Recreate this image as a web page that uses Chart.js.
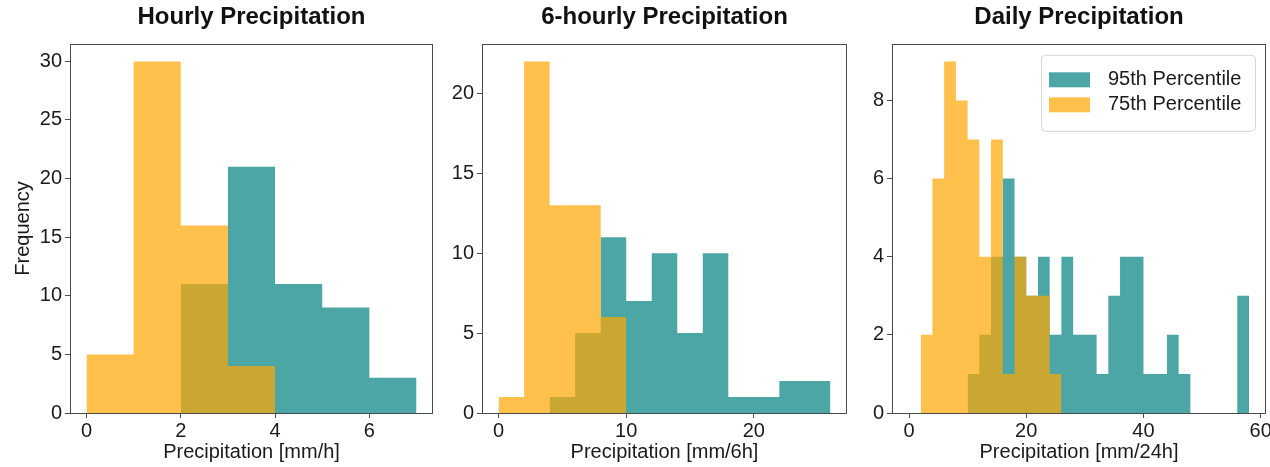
<!DOCTYPE html>
<html>
<head>
<meta charset="utf-8">
<script src="https://cdn.jsdelivr.net/npm/chart.js@4.4.1/dist/chart.umd.min.js"></script>
<style>
  body { margin: 0; background: #fff; width: 1270px; height: 467px; overflow: hidden; position: relative; }
  canvas { position: absolute; top: 0; }
</style>
</head>
<body>
<canvas id="hourlyChart" width="440" height="467" style="left:0px"></canvas>
<canvas id="sixHourlyChart" width="412" height="467" style="left:440px"></canvas>
<canvas id="dailyChart" width="440" height="467" style="left:850px"></canvas>
<script>
const FONT = "'Liberation Sans', Arial, Helvetica, sans-serif";

// Hourly (bin edges + counts)
const hourlyEdges75 = [0, 1, 2, 3, 4];
const hourlyCounts75 = [5, 30, 16, 4];
const hourlyEdges95 = [2, 3, 4, 5, 6, 7];
const hourlyCounts95 = [11, 21, 11, 9, 3];
const hourlyXTicks = [0, 2, 4, 6];
const hourlyYTicks = [0, 5, 10, 15, 20, 25, 30];

// 6-hourly
const sixEdges75 = [0, 2, 4, 6, 8, 10];
const sixCounts75 = [1, 22, 13, 13, 6];
const sixEdges95 = [4, 6, 8, 10, 12, 14, 16, 18, 20, 22, 24, 26];
const sixCounts95 = [1, 5, 11, 7, 10, 5, 10, 1, 1, 2, 2];
const sixXTicks = [0, 10, 20];
const sixYTicks = [0, 5, 10, 15, 20];

// Daily
const dailyEdges75 = [2, 4, 6, 8, 10, 12, 14, 16, 18, 20, 22, 24, 26];
const dailyCounts75 = [2, 6, 9, 8, 7, 4, 7, 1, 4, 3, 3, 1];
const dailyEdges95 = [10, 12, 14, 16, 18, 20, 22, 24, 26, 28, 30, 32, 34, 36, 38, 40, 42, 44, 46, 48, 50, 52, 54, 56, 58];
const dailyCounts95 = [1, 2, 4, 6, 4, 3, 4, 2, 4, 2, 2, 1, 3, 4, 4, 1, 1, 2, 1, 0, 0, 0, 0, 3];
const dailyXTicks = [0, 20, 40, 60];
const dailyYTicks = [0, 2, 4, 6, 8];

const label95 = '95th Percentile';
const label75 = '75th Percentile';
const color95 = 'rgba(0, 128, 128, 0.7)';
const color75 = 'rgba(255, 165, 0, 0.7)';

// turn bin edges + counts into the outline of a histogram
function histPoints(edges, counts) {
    const pts = [];
    counts.forEach((c, i) => {
        pts.push({ x: edges[i], y: c });
        pts.push({ x: edges[i + 1], y: c });
    });
    return pts;
}

// box around the plot area
const frame = {
    id: 'frame',
    afterDatasetsDraw(chart) {
        const { ctx, chartArea } = chart;
        ctx.save();
        ctx.strokeStyle = '#4a4a4a';
        ctx.lineWidth = 1;
        ctx.strokeRect(Math.round(chartArea.left) + 0.5, Math.round(chartArea.top) + 0.5,
            Math.round(chartArea.right - chartArea.left) - 1, Math.round(chartArea.bottom - chartArea.top));
        ctx.restore();
    }
};

// legend drawn inside the daily panel, top right
const insideLegend = {
    id: 'insideLegend',
    afterDraw(chart) {
        const { ctx, chartArea } = chart;
        const w = 214, h = 76;
        const x = chartArea.right - 11 - w;
        const y = chartArea.top + 11;
        ctx.save();
        ctx.beginPath();
        ctx.roundRect(x + 0.5, y + 0.5, w, h, 4);
        ctx.fillStyle = 'rgba(255,255,255,0.85)';
        ctx.fill();
        ctx.strokeStyle = '#d6d6d6';
        ctx.lineWidth = 1;
        ctx.stroke();
        const items = chart.data.datasets.slice().reverse();
        items.forEach((ds, i) => {
            const cy = y + 25 + i * 25;
            ctx.fillStyle = ds.backgroundColor;
            ctx.fillRect(x + 8, cy - 7.5, 41, 15);
            ctx.fillStyle = '#1a1a1a';
            ctx.font = '20px ' + FONT;
            ctx.textBaseline = 'middle';
            ctx.textAlign = 'left';
            ctx.fillText(ds.label, x + 67, cy);
        });
        ctx.restore();
    }
};

function makePanel(id, cfg) {
    const plugins = [frame];
    if (cfg.legend) plugins.push(insideLegend);
    return new Chart(document.getElementById(id), {
        type: 'line',
        data: {
            datasets: [
                {
                    label: label75,
                    data: histPoints(cfg.edges75, cfg.counts75),
                    backgroundColor: color75,
                    borderColor: 'transparent',
                    borderWidth: 0,
                    pointRadius: 0,
                    tension: 0,
                    fill: 'origin'
                },
                {
                    label: label95,
                    data: histPoints(cfg.edges95, cfg.counts95),
                    backgroundColor: color95,
                    borderColor: 'transparent',
                    borderWidth: 0,
                    pointRadius: 0,
                    tension: 0,
                    fill: 'origin'
                }
            ]
        },
        options: {
            responsive: false,
            animation: false,
            layout: { padding: { left: 0, right: cfg.padRight, top: 0, bottom: 0 } },
            plugins: {
                legend: { display: false },
                tooltip: { enabled: false },
                title: {
                    display: true,
                    text: cfg.title,
                    fullSize: false,
                    color: '#111',
                    font: { family: FONT, size: 24, weight: 'bold' },
                    padding: { top: 3, bottom: 12 }
                }
            },
            scales: {
                x: {
                    type: 'linear',
                    min: cfg.xMin,
                    max: cfg.xMax,
                    border: { display: false },
                    grid: { drawOnChartArea: false, drawTicks: true, tickLength: 5, color: '#4a4a4a' },
                    ticks: { color: '#1a1a1a', font: { family: FONT, size: 20 }, padding: 1, maxRotation: 0, autoSkip: false },
                    afterBuildTicks: s => { s.ticks = cfg.xTicks.map(v => ({ value: v })); },
                    afterFit: s => { s.height = 54; },
                    title: {
                        display: true,
                        text: cfg.xLabel,
                        color: '#1a1a1a',
                        font: { family: FONT, size: 20 },
                        padding: { top: 0, bottom: 3 }
                    }
                },
                y: {
                    type: 'linear',
                    min: 0,
                    max: cfg.yMax,
                    border: { display: false },
                    grid: { drawOnChartArea: false, drawTicks: true, tickLength: 5, color: '#4a4a4a' },
                    ticks: { color: '#1a1a1a', font: { family: FONT, size: 20 }, padding: 3 },
                    afterBuildTicks: s => { s.ticks = cfg.yTicks.map(v => ({ value: v })); },
                    afterFit: s => { s.width = cfg.yWidth; },
                    title: {
                        display: !!cfg.yLabel,
                        text: cfg.yLabel || '',
                        color: '#1a1a1a',
                        font: { family: FONT, size: 20 },
                        padding: { top: 11, bottom: 0 }
                    }
                }
            }
        },
        plugins: plugins
    });
}

makePanel('hourlyChart', {
    title: 'Hourly Precipitation',
    xLabel: 'Precipitation [mm/h]',
    yLabel: 'Frequency',
    edges75: hourlyEdges75, counts75: hourlyCounts75,
    edges95: hourlyEdges95, counts95: hourlyCounts95,
    xTicks: hourlyXTicks, yTicks: hourlyYTicks,
    xMin: -0.35, xMax: 7.35, yMax: 31.5,
    yWidth: 70, padRight: 7
});

makePanel('sixHourlyChart', {
    title: '6-hourly Precipitation',
    xLabel: 'Precipitation [mm/6h]',
    edges75: sixEdges75, counts75: sixCounts75,
    edges95: sixEdges95, counts95: sixCounts95,
    xTicks: sixXTicks, yTicks: sixYTicks,
    xMin: -1.3, xMax: 27.3, yMax: 23.1,
    yWidth: 42, padRight: 5
});

makePanel('dailyChart', {
    title: 'Daily Precipitation',
    xLabel: 'Precipitation [mm/24h]',
    edges75: dailyEdges75, counts75: dailyCounts75,
    edges95: dailyEdges95, counts95: dailyCounts95,
    xTicks: dailyXTicks, yTicks: dailyYTicks,
    xMin: -2.9, xMax: 60.9, yMax: 9.45,
    yWidth: 42, padRight: 24,
    legend: true
});
</script>
</body>
</html>
